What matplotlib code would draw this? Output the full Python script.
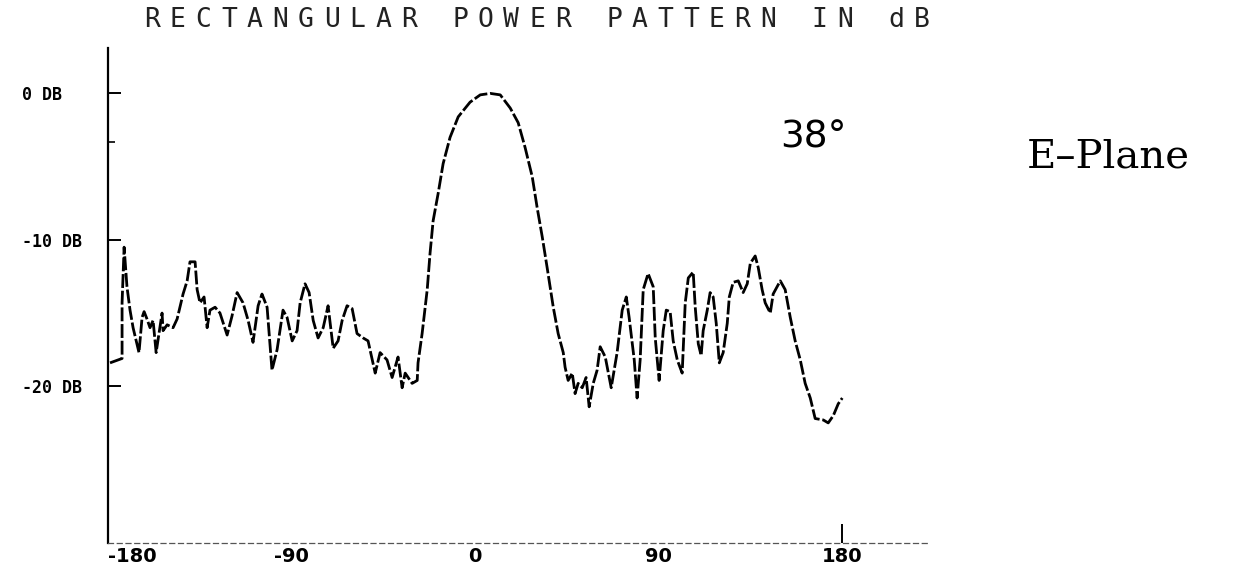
import matplotlib
matplotlib.use("Agg")
import matplotlib.pyplot as plt

# Angle (degrees) and relative power (dB)
angle_deg = [
    -179.0, -173.1, -173.1, -172.1, -170.7, -169.2, -167.7, -164.8, -163.3, -162.3,
    -160.9, -159.4, -157.9, -156.4, -155.0, -153.5, -153.0, -151.0, -148.1, -146.1,
    -143.2, -141.2, -139.8, -137.3, -136.3, -134.9, -132.9, -131.4, -130.0, -127.5,
    -125.1, -121.6, -119.2, -116.7, -113.8, -111.3, -108.9, -106.4, -104.5, -102.0,
    -99.6, -97.1, -94.2, -92.2, -89.7, -87.3, -85.8, -83.4, -81.4, -79.4,
    -77.0, -74.5, -72.1, -69.6, -67.2, -65.2, -62.8, -60.3, -57.9, -54.9,
    -52.5, -49.0, -46.6, -43.2, -40.7, -37.8, -35.8, -34.3, -30.9, -28.4,
    -28.0, -26.0, -23.5, -22.1, -20.6, -18.1, -15.7, -12.3, -8.3, -2.5,
    2.5, 7.4, 12.3, 17.2, 21.1, 24.5, 28.0, 30.4, 32.9, 35.3,
    38.3, 40.7, 43.2, 44.1, 45.6, 47.6, 49.0, 50.5, 52.5, 54.4,
    55.9, 57.9, 59.8, 61.3, 63.8, 66.7, 69.6, 72.1, 74.1, 75.5,
    78.0, 79.4, 80.9, 82.4, 84.8, 87.3, 88.3, 90.2, 92.2, 93.7,
    95.6, 97.1, 99.1, 101.5, 103.0, 104.5, 106.9, 107.9, 109.4, 110.8,
    111.8, 113.8, 115.2, 116.7, 118.2, 119.7, 121.6, 123.6, 124.6, 126.5,
    129.0, 131.4, 133.4, 134.9, 137.3, 138.8, 140.7, 142.2, 144.7, 146.1,
    149.6, 152.0, 154.5, 156.9, 159.4, 161.8, 164.3, 166.7, 170.7, 173.1,
    175.6, 178.0, 180.0,
]
power_db = [
    -18.4, -18.1, -14.3, -10.5, -13.2, -14.8, -16.0, -17.7, -15.3, -14.9,
    -15.4, -16.0, -15.5, -17.7, -16.4, -15.0, -16.2, -15.8, -16.0, -15.4,
    -13.7, -12.8, -11.5, -11.5, -13.4, -14.3, -13.9, -16.0, -14.8, -14.6,
    -15.0, -16.5, -15.2, -13.6, -14.3, -15.5, -17.0, -14.5, -13.7, -14.6,
    -18.9, -17.5, -14.8, -15.3, -16.9, -16.2, -14.3, -13.0, -13.6, -15.5,
    -16.7, -16.0, -14.5, -17.4, -16.9, -15.5, -14.5, -14.7, -16.4, -16.7,
    -16.9, -19.1, -17.7, -18.2, -19.4, -18.0, -20.1, -19.1, -19.8, -19.6,
    -18.4, -16.4, -13.4, -10.9, -8.7, -6.8, -4.8, -3.0, -1.6, -0.6,
    -0.1, 0.0, -0.1, -1.0, -2.0, -3.7, -5.7, -7.8, -9.8, -11.9,
    -14.6, -16.4, -17.7, -18.7, -19.6, -19.1, -20.5, -19.8, -20.1, -19.4,
    -21.4, -19.8, -18.9, -17.3, -18.0, -20.1, -17.7, -14.8, -13.9, -15.3,
    -18.2, -20.8, -18.2, -13.4, -12.3, -13.2, -16.7, -19.6, -16.2, -14.8,
    -14.9, -16.9, -18.2, -19.1, -14.3, -12.6, -12.2, -14.6, -17.1, -17.9,
    -16.2, -14.8, -13.6, -13.9, -15.7, -18.4, -17.7, -15.7, -13.9, -12.9,
    -12.8, -13.6, -13.0, -11.6, -11.1, -11.9, -13.4, -14.3, -15.0, -13.7,
    -12.8, -13.4, -15.3, -16.9, -18.2, -19.8, -20.8, -22.2, -22.3, -22.5,
    -22.0, -21.2, -20.8,
]

x_ticks = [-180, -90, 0, 90, 180]
x_tick_labels = ["-180", "-90", "0", "90", "180"]
y_ticks = [0, -10, -20]
y_tick_labels = ["0 DB", "-10 DB", "-20 DB"]

W, H = 1244, 576
fig = plt.figure(figsize=(W / 100, H / 100), dpi=100)
fig.patch.set_facecolor("white")

left, right, top, bottom = 108, 930, 48, 543
ax = fig.add_axes([left / W, 1 - bottom / H, (right - left) / W, (bottom - top) / H])
ax.set_xlim(-180, 223)
ax.set_ylim(-30.7, 3.1)

ax.plot(angle_deg, power_db, color="black", lw=2.0,
        linestyle=(0, (5, 1.0)), solid_capstyle="butt", dash_capstyle="butt")

for s in ["top", "right"]:
    ax.spines[s].set_visible(False)
ax.spines["left"].set_linewidth(1.6)
ax.spines["left"].set_color("black")
ax.spines["bottom"].set_linestyle((0, (4, 3)))
ax.spines["bottom"].set_color("#555555")
ax.spines["bottom"].set_linewidth(0.9)

ax.set_yticks(y_ticks)
ax.set_yticklabels(y_tick_labels, fontfamily="DejaVu Sans Mono",
                   fontweight="bold", fontsize=12)
ax.tick_params(axis="y", direction="in", length=9, width=1.4, pad=62)
ax.set_yticks([-3.3], minor=True)
ax.tick_params(axis="y", which="minor", direction="in", length=5, width=1.2)
for lab in ax.get_yticklabels():
    lab.set_horizontalalignment("left")

ax.xaxis.remove_overlapping_locs = False
ax.set_xticks(x_ticks)
ax.set_xticklabels(x_tick_labels, fontfamily="DejaVu Sans",
                   fontweight="bold", fontsize=14)
ax.tick_params(axis="x", length=0, pad=3)
ax.get_xticklabels()[0].set_horizontalalignment("left")
ax.set_xticks([-180, 180], minor=True)
ax.tick_params(axis="x", which="minor", direction="in", length=14, width=1.4)

# Title in wide, spaced dot-matrix style
title = "RECTANGULAR POWER PATTERN IN dB"
x0, x1 = 152, 922
step = (x1 - x0) / (len(title) - 1)
for i, ch in enumerate(title):
    fig.text((x0 + i * step) / W, 1 - 20 / H, ch, fontfamily="DejaVu Sans Mono",
             fontsize=19, color="#222222", ha="center", va="center")

fig.text(813 / W, 1 - 137 / H, "38°", fontfamily="DejaVu Sans", fontsize=27,
         ha="center", va="center", color="black")
fig.text(1108 / W, 1 - 157 / H, "E–Plane", fontfamily="DejaVu Serif", fontsize=29,
         ha="center", va="center", color="black")

fig.savefig("out.png", dpi=100, facecolor="white")
